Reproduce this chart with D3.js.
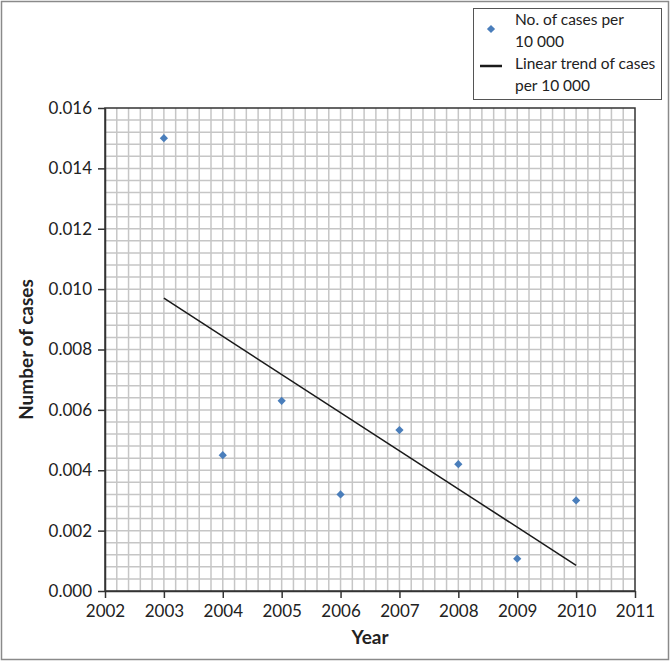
<!DOCTYPE html>
<html><head><meta charset="utf-8">
<script src="https://cdn.jsdelivr.net/npm/d3@7"></script>
<style>body{margin:0;background:#fff;}svg{display:block;}text{font-family:Lato,"Open Sans",sans-serif;fill:#222;}</style>
</head><body><svg id="c" width="670" height="661"></svg>
<script>
const years = [2003, 2004, 2005, 2006, 2007, 2008, 2009, 2010];
const cases = [0.0150, 0.0045, 0.0063, 0.0032, 0.00533, 0.0042, 0.00107, 0.0030];
const trendYears = [2003, 2010];
const trendValues = [0.0097, 0.00085];
const xTicks = [2002, 2003, 2004, 2005, 2006, 2007, 2008, 2009, 2010, 2011];
const yTicks = [0, 0.002, 0.004, 0.006, 0.008, 0.010, 0.012, 0.014, 0.016];
const legendLabels = [["No. of cases per", "10 000"], ["Linear trend of cases", "per 10 000"]];

const svg = d3.select("#c");
const L = 105, R = 635, T = 108, B = 591;
const x = d3.scaleLinear().domain([2002, 2011]).range([L, R]);
const y = d3.scaleLinear().domain([0, 0.016]).range([B, T]);

// outer frame
svg.append("rect").attr("x", 1.5).attr("y", 1.5).attr("width", 667).attr("height", 658)
  .attr("fill", "none").attr("stroke", "#8a8a8a").attr("stroke-width", 1.5);

// grid
const g = svg.append("g");
const xMinor = d3.range(0, 45).map(i => 2002 + i * 0.2);
const yMinor = d3.range(0, 40).map(i => i * 0.0004);
g.selectAll(".vx").data(xMinor.slice(1)).enter().append("line")
  .attr("x1", d => x(d)).attr("x2", d => x(d)).attr("y1", T).attr("y2", B)
  .attr("stroke", "#c6c6c6").attr("stroke-width", 1.5);
g.selectAll(".hy").data(yMinor.slice(1)).enter().append("line")
  .attr("y1", d => y(d)).attr("y2", d => y(d)).attr("x1", L).attr("x2", R)
  .attr("stroke", "#c6c6c6").attr("stroke-width", 1.5);

// plot border
svg.append("rect").attr("x", L).attr("y", T).attr("width", R - L).attr("height", B - T)
  .attr("fill", "none").attr("stroke", "#333").attr("stroke-width", 1.5);

// axes
const xa = svg.append("g").attr("transform", `translate(0,${B})`)
  .call(d3.axisBottom(x).tickValues(xTicks).tickFormat(d3.format("d")).tickSizeInner(7).tickSizeOuter(0).tickPadding(7));
const ya = svg.append("g").attr("transform", `translate(${L},0)`)
  .call(d3.axisLeft(y).tickValues(yTicks).tickFormat(d3.format(".3f")).tickSizeInner(7).tickSizeOuter(0).tickPadding(6));
[xa, ya].forEach(a => {
  a.select(".domain").attr("stroke", "#333").attr("stroke-width", 1.5);
  a.selectAll(".tick line").attr("stroke", "#333").attr("stroke-width", 1.5);
  a.selectAll("text").style("font-size", "17px").attr("fill", "#222");
});

// trend line
svg.append("line")
  .attr("x1", x(trendYears[0])).attr("y1", y(trendValues[0]))
  .attr("x2", x(trendYears[1])).attr("y2", y(trendValues[1]))
  .attr("stroke", "#1a1a1a").attr("stroke-width", 1.5);

// points (square rotated 45 degrees)
const diamond = d3.symbol().type(d3.symbolSquare).size(34);
svg.selectAll(".pt").data(years).enter().append("path")
  .attr("d", diamond)
  .attr("transform", (d, i) => `translate(${x(d)},${y(cases[i])}) rotate(45)`)
  .attr("fill", "#4a7ebb");

// axis titles
svg.append("text").attr("x", x(2006.5)).attr("y", 644).attr("text-anchor", "middle")
  .style("font-size", "19px").style("font-weight", "bold").text("Year");
svg.append("text").attr("transform", `translate(33,${(T + B) / 2}) rotate(-90)`)
  .attr("text-anchor", "middle").style("font-size", "19px").style("font-weight", "bold").text("Number of cases");

// legend
const lg = svg.append("g");
lg.append("rect").attr("x", 473.5).attr("y", 8.5).attr("width", 188).attr("height", 91)
  .attr("fill", "#fff").attr("stroke", "#555").attr("stroke-width", 1);
lg.append("path").attr("d", diamond).attr("transform", "translate(491,29) rotate(45)").attr("fill", "#4a7ebb");
lg.append("line").attr("x1", 480).attr("x2", 502).attr("y1", 66).attr("y2", 66)
  .attr("stroke", "#1a1a1a").attr("stroke-width", 2.5);
const ly = [[25, 47], [69, 91]];
legendLabels.forEach((lines, i) => {
  lines.forEach((t, j) => {
    lg.append("text").attr("x", 515).attr("y", ly[i][j]).style("font-size", "15.5px").text(t);
  });
});
</script></body></html>
